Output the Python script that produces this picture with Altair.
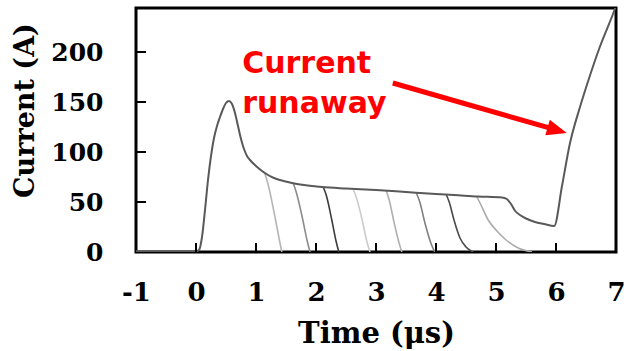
import altair as alt
import pandas as pd

# ---- data ----
main_t = [-1.0, -0.5, 0.0, 0.05, 0.1, 0.15, 0.2, 0.25, 0.3, 0.35, 0.4, 0.45, 0.5, 0.55,
          0.6, 0.65, 0.7, 0.75, 0.8, 0.85, 0.9, 1.0, 1.1, 1.2, 1.3, 1.4, 1.6, 1.8, 2.1,
          2.5, 3.0, 3.5, 4.0, 4.3, 4.7, 5.1, 5.18, 5.25, 5.32, 5.4, 5.5, 5.65, 5.8, 5.97,
          6.1, 6.23, 6.4, 6.52, 6.73, 6.95, 7.0]
main_i = [0.8, 0.8, 0.8, 2, 15, 42, 72, 96, 114, 126, 135, 143, 149, 151,
          148, 139, 126, 113, 103, 96, 92, 86, 81, 77, 74, 72, 69, 67, 65,
          63.5, 62, 60, 58, 57, 55.5, 54.5, 53, 48, 41, 37, 33.5, 30, 28, 26,
          66, 108, 145, 168, 205, 238, 246]

branch_names = ["b1", "b2", "b3", "b4", "b5", "b6", "b7", "b8"]
branch_t = [
    [1.15, 1.20, 1.30, 1.38, 1.43],
    [1.62, 1.67, 1.77, 1.85, 1.90],
    [2.12, 2.17, 2.26, 2.33, 2.38],
    [2.62, 2.67, 2.77, 2.85, 2.90],
    [3.17, 3.22, 3.30, 3.38, 3.43],
    [3.67, 3.73, 3.82, 3.92, 3.98],
    [4.17, 4.22, 4.30, 4.40, 4.50, 4.62],
    [4.68, 4.75, 4.87, 5.00, 5.15, 5.37, 5.60],
]
branch_i = [
    [78, 68, 40, 15, 0],
    [69, 60, 35, 12, 0],
    [65, 57, 33, 12, 0],
    [63, 55, 32, 10, 0],
    [61.5, 52, 30, 10, 0],
    [59.5, 50, 28, 8, 0],
    [57.5, 50, 32, 14, 5, 0],
    [55.5, 47, 32, 22, 13, 4, 0],
]
branch_colors = ["#b5b5b5", "#8c8c8c", "#3c3c3c", "#cccccc", "#b0b0b0", "#808080", "#4a4a4a", "#ababab"]

x_tick_labels = [-1, 0, 1, 2, 3, 4, 5, 6, 7]
y_tick_labels = [0, 50, 100, 150, 200]
x_inner_ticks = [0, 1, 2, 3, 4, 5, 6]
y_inner_ticks = [50, 100, 150, 200]

note_lines = ["Current", "runaway"]
note_t = [0.77, 0.77]
note_i = [179, 139]

arrow_t = [3.28, 5.99]
arrow_i = [169, 122.3]
arrowhead_t = [6.18]
arrowhead_i = [119]

# ---- tables ----
main_df = pd.DataFrame({"t": main_t, "I": main_i, "k": range(len(main_t))})
rows = []
for name, ts, is_ in zip(branch_names, branch_t, branch_i):
    for k, (t, i) in enumerate(zip(ts, is_)):
        rows.append({"series": name, "t": t, "I": i, "k": k})
branch_df = pd.DataFrame(rows)
note_df = pd.DataFrame({"text": note_lines, "t": note_t, "I": note_i})
arrow_df = pd.DataFrame({"t": arrow_t, "I": arrow_i, "k": [0, 1]})
head_df = pd.DataFrame({"t": arrowhead_t, "I": arrowhead_i})
xt_df = pd.DataFrame({"t": x_inner_ticks})
yt_df = pd.DataFrame({"I": y_inner_ticks})

W, H = 480, 244
SERIF = "DejaVu Serif"

xscale = alt.Scale(domain=[-1, 7], nice=False)
yscale = alt.Scale(domain=[0, 244], nice=False)

xaxis = alt.Axis(values=x_tick_labels,
                 labelExpr="datum.value < 0 ? '-' + abs(datum.value) : '' + datum.value",
                 labelFont=SERIF, labelFontWeight="bold", labelFontSize=26,
                 labelColor="black", labelPadding=27, labelFlush=False, labelOverlap=False,
                 ticks=False, domain=False, grid=False,
                 title="Time (μs)", titleFont=SERIF, titleFontWeight="bold", titleFontSize=29,
                 titleColor="black", titleY=90, titleBaseline="alphabetic")
yaxis = alt.Axis(values=y_tick_labels, labelExpr="'' + datum.value",
                 labelFont=SERIF, labelFontWeight="bold", labelFontSize=25,
                 labelColor="black", labelPadding=33, labelFlush=False, labelOverlap=False,
                 ticks=False, domain=False, grid=False,
                 title="Current (A)", titleFont=SERIF, titleFontWeight="bold", titleFontSize=27,
                 titleColor="black", titleX=-111, titleY=102, titleAngle=270,
                 titleAlign="center", titleBaseline="middle")

branches = alt.Chart(branch_df).mark_line(strokeWidth=1.6, clip=True, interpolate="monotone").encode(
    x=alt.X("t:Q", scale=xscale, axis=xaxis),
    y=alt.Y("I:Q", scale=yscale, axis=yaxis),
    color=alt.Color("series:N", scale=alt.Scale(domain=branch_names, range=branch_colors), legend=None),
    order="k:Q",
)

main = alt.Chart(main_df).mark_line(strokeWidth=2, color="#595959", clip=True,
                                    interpolate="monotone").encode(
    x=alt.X("t:Q", scale=xscale),
    y=alt.Y("I:Q", scale=yscale),
    order="k:Q",
)

xticks = alt.Chart(xt_df).mark_rule(color="black", strokeWidth=2).encode(
    x=alt.X("t:Q", scale=xscale), y=alt.value(H - 9), y2=alt.value(H)
)
yticks = alt.Chart(yt_df).mark_rule(color="black", strokeWidth=2).encode(
    y=alt.Y("I:Q", scale=yscale), x=alt.value(0), x2=alt.value(10)
)

note = alt.Chart(note_df).mark_text(font="DejaVu Sans", fontWeight="bold", fontSize=30,
                                    color="#ff0000", align="left", baseline="alphabetic").encode(
    x=alt.X("t:Q", scale=xscale), y=alt.Y("I:Q", scale=yscale), text="text:N"
)

arrow = alt.Chart(arrow_df).mark_line(color="#ff0000", strokeWidth=5).encode(
    x=alt.X("t:Q", scale=xscale), y=alt.Y("I:Q", scale=yscale), order="k:Q"
)
head = alt.Chart(head_df).mark_point(shape="M0,0 L-2,-0.8 L-2,0.8 Z", size=400, angle=16,
                                     filled=True, color="#ff0000", opacity=1).encode(
    x=alt.X("t:Q", scale=xscale), y=alt.Y("I:Q", scale=yscale)
)

chart = alt.layer(branches, main, xticks, yticks, note, arrow, head).properties(
    width=W, height=H,
    autosize=alt.AutoSizeParams(type="none"),
    padding={"left": 136, "top": 8, "right": 10, "bottom": 99},
    background="white",
).configure_view(stroke="black", strokeWidth=3)

chart.save("out.html", embed_options={"renderer": "svg", "actions": False})
